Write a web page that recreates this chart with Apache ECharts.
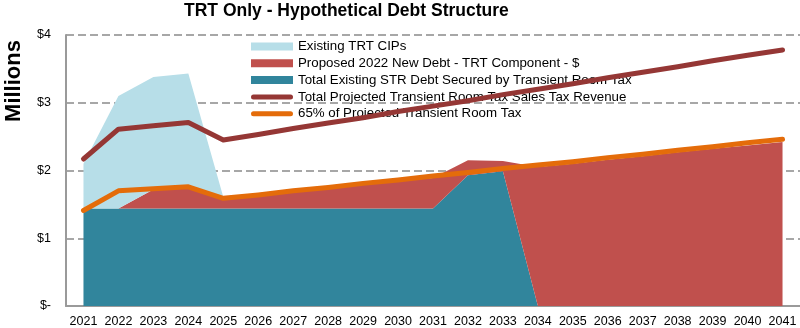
<!DOCTYPE html>
<html><head><meta charset="utf-8">
<script src="https://cdn.jsdelivr.net/npm/echarts@6/dist/echarts.min.js"></script>
<style>html,body{margin:0;padding:0;background:#fff}#c{width:800px;height:328px}</style>
</head><body><div id="c"></div>
<script>
const years = ['2021','2022','2023','2024','2025','2026','2027','2028','2029','2030','2031','2032','2033','2034','2035','2036','2037','2038','2039','2040','2041'];
const existingDebt = [1.44,1.44,1.44,1.44,1.44,1.44,1.44,1.44,1.44,1.44,1.44,1.93,1.99,0,0,0,0,0,0,0,0];
const proposedDebt = [0,0,0.28,0.32,0.15,0.19,0.24,0.29,0.35,0.40,0.45,0.22,0.15,2.05,2.10,2.16,2.21,2.27,2.32,2.37,2.42];
const existingCIPs = [0.66,1.66,1.66,1.67,0.02,0,0,0,0,0,0,0,0,0,0,0,0,0,0,0,0];
const totalRevenue = [2.17,2.61,2.66,2.71,2.45,2.53,2.62,2.70,2.78,2.87,2.95,3.03,3.12,3.20,3.28,3.37,3.45,3.53,3.62,3.70,3.78];
const pct65 = [1.41,1.70,1.73,1.76,1.59,1.64,1.70,1.75,1.81,1.86,1.92,1.97,2.03,2.08,2.13,2.19,2.24,2.30,2.35,2.41,2.46];
const yTicks = ['$-','$1','$2','$3','$4'];

const FONT = '"Liberation Sans", Arial, sans-serif';
const C_BLUE = '#B7DEE8', C_RED = '#C0504D', C_TEAL = '#31859C', C_DRED = '#953735', C_ORANGE = '#E46C0A';
const lineIcon = 'path://M2.5,0 L39.5,0 A2.5,2.5 0 0 1 39.5,5 L2.5,5 A2.5,2.5 0 0 1 2.5,0 Z';

const chart = echarts.init(document.getElementById('c'), null, {renderer:'canvas'});
chart.setOption({
  animation: false,
  backgroundColor: '#fff',
  title: {
    text: 'TRT Only - Hypothetical Debt Structure',
    left: 184, top: 2, padding: 0,
    textStyle: {fontFamily: FONT, fontSize: 17.5, fontWeight: 'bold', color: '#000'}
  },
  graphic: [{
    type: 'text', x: 14, y: 81, rotation: Math.PI/2,
    style: {text: 'Millions', font: 'bold 22px ' + FONT, fill: '#000', textAlign: 'center', textVerticalAlign: 'middle'}
  }],
  legend: {
    orient: 'vertical', left: 251, top: 35, padding: [5,5,5,0],
    itemWidth: 42, itemHeight: 8, itemGap: 3.8,
    textStyle: {fontFamily: FONT, fontSize: 13.3, color: '#000'},
    data: [
      {name: 'Existing TRT CIPs', icon: 'rect'},
      {name: 'Proposed 2022 New Debt - TRT Component - $', icon: 'rect'},
      {name: 'Total Existing STR Debt Secured by Transient Room Tax', icon: 'rect'},
      {name: 'Total Projected Transient Room Tax Sales Tax Revenue', icon: lineIcon},
      {name: '65% of Projected Transient Room Tax', icon: lineIcon}
    ]
  },
  grid: {left: 66, right: -1, top: 35, bottom: 22, containLabel: false},
  xAxis: {
    type: 'category', data: years, boundaryGap: true,
    axisLine: {lineStyle: {color: '#9a9a9a', width: 2}},
    axisTick: {show: false},
    axisLabel: {fontFamily: FONT, fontSize: 12.5, color: '#000', margin: 9, interval: 0}
  },
  yAxis: {
    type: 'value', min: 0, max: 4, interval: 1,
    axisLine: {show: true, lineStyle: {color: '#9a9a9a', width: 2}},
    axisTick: {show: false},
    axisLabel: {fontFamily: FONT, fontSize: 12.5, color: '#000', margin: 15,
      formatter: v => yTicks[Math.round(v)]},
    splitLine: {show: true, lineStyle: {color: '#8a8a8a', width: 1.5, type: [8,4]}}
  },
  series: [
    {name: 'Total Existing STR Debt Secured by Transient Room Tax', type: 'line', stack: 'a', data: existingDebt,
     symbol: 'none', lineStyle: {width: 0}, itemStyle: {color: C_TEAL}, areaStyle: {color: C_TEAL, opacity: 1}, z: 2},
    {name: 'Proposed 2022 New Debt - TRT Component - $', type: 'line', stack: 'a', data: proposedDebt,
     symbol: 'none', lineStyle: {width: 0}, itemStyle: {color: C_RED}, areaStyle: {color: C_RED, opacity: 1}, z: 2},
    {name: 'Existing TRT CIPs', type: 'line', stack: 'a', data: existingCIPs,
     symbol: 'none', lineStyle: {width: 0}, itemStyle: {color: C_BLUE}, areaStyle: {color: C_BLUE, opacity: 1}, z: 2},
    {name: 'Total Projected Transient Room Tax Sales Tax Revenue', type: 'line', data: totalRevenue,
     symbol: 'none', lineStyle: {width: 5, color: C_DRED, cap: 'round', join: 'round'}, itemStyle: {color: C_DRED}, z: 4},
    {name: '65% of Projected Transient Room Tax', type: 'line', data: pct65,
     symbol: 'none', lineStyle: {width: 5, color: C_ORANGE, cap: 'round', join: 'round'}, itemStyle: {color: C_ORANGE}, z: 4}
  ]
});
</script></body></html>
